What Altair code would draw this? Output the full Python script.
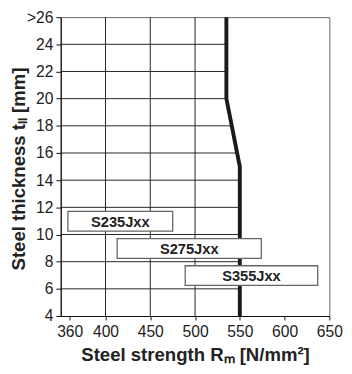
import altair as alt
import pandas as pd

# Thick limit line (strength vs thickness)
line_x = [535, 535, 550, 550]
line_y = [26, 20, 15, 4]

# Grid (only drawn left of the limit line)
grid_y = [6, 8, 10, 12, 14, 16, 18, 20, 22, 24]
grid_x_end = [550, 550, 550, 550, 550, 547, 541, 535, 535, 535]
vgrid_x = [400, 450, 500]

# Steel grade boxes
grades = ["S235Jxx", "S275Jxx", "S355Jxx"]
box_x1 = [358, 413, 489]
box_x2 = [475, 574, 637]
box_y1 = [10.25, 8.25, 6.25]
box_y2 = [11.7, 9.7, 7.7]

x_ticks = [360, 400, 450, 500, 550, 600, 650]
y_ticks = [4, 6, 8, 10, 12, 14, 16, 18, 20, 22, 24, 26]

W, H = 275, 306
FONT = "Liberation Sans"

xs = alt.Scale(domain=[350, 650], nice=False, zero=False)
ys = alt.Scale(domain=[4, 26], nice=False, zero=False)

x_axis = alt.Axis(values=x_ticks, title="Steel strength Rₘ [N/mm²]",
                  grid=False, tickSize=4, labelPadding=4, labelFlush=False,
                  titleY=46, titleBaseline="alphabetic")
y_axis = alt.Axis(values=y_ticks, title="Steel thickness tₗₗ [mm]",
                  grid=False, tickSize=5, labelPadding=3, labelFlush=False,
                  labelExpr="datum.value == 26 ? '>26' : datum.label",
                  titleX=-37, titleY=155, titleBaseline="alphabetic")

line_df = pd.DataFrame({"x": line_x, "y": line_y, "i": range(len(line_x))})
hgrid_df = pd.DataFrame({"y": grid_y, "x2": grid_x_end, "x": [350] * len(grid_y)})
vgrid_df = pd.DataFrame({"x": vgrid_x})
box_df = pd.DataFrame({"g": grades, "x": box_x1, "x2": box_x2, "y": box_y1, "y2": box_y2})
box_df["xc"] = (box_df.x + box_df.x2) / 2
box_df["yc"] = (box_df.y + box_df.y2) / 2

X = lambda f: alt.X(f, scale=xs, axis=x_axis)
Y = lambda f: alt.Y(f, scale=ys, axis=y_axis)

hgrid = alt.Chart(hgrid_df).mark_rule(color="#222", strokeWidth=1).encode(
    x=X("x:Q"), x2="x2:Q", y=Y("y:Q"),
)

vgrid = alt.Chart(vgrid_df).mark_rule(color="#222", strokeWidth=1).encode(
    x=X("x:Q"), y=alt.value(0), y2=alt.value(H),
)

line = alt.Chart(line_df).mark_line(color="#1a1a1a", strokeWidth=4, strokeCap="butt",
                                    strokeJoin="miter").encode(
    x=X("x:Q"), y=Y("y:Q"), order="i:O",
)

boxes = alt.Chart(box_df).mark_rect(fill="white", stroke="#666", strokeWidth=1.3).encode(
    x=X("x:Q"), x2="x2:Q", y=Y("y:Q"), y2="y2:Q",
)

labels = alt.Chart(box_df).mark_text(font=FONT, fontSize=15, fontWeight="bold",
                                     color="#222", baseline="middle", dy=1).encode(
    x=X("xc:Q"), y=Y("yc:Q"), text="g:N",
)

chart = alt.layer(hgrid, vgrid, line, boxes, labels).properties(
    width=W, height=H,
    autosize=alt.AutoSizeParams(type="none"),
    padding={"left": 54, "top": 5, "right": 15, "bottom": 55},
).configure_view(
    stroke="#666", strokeWidth=1
).configure_axis(
    labelFont=FONT, labelFontSize=16, labelColor="#222",
    titleFont=FONT, titleFontSize=19, titleFontWeight="bold", titleColor="#222",
    domainColor="#111", tickColor="#111", domainWidth=1.2, tickWidth=1,
)

chart.save("out.html", embed_options={"renderer": "svg", "actions": False})
